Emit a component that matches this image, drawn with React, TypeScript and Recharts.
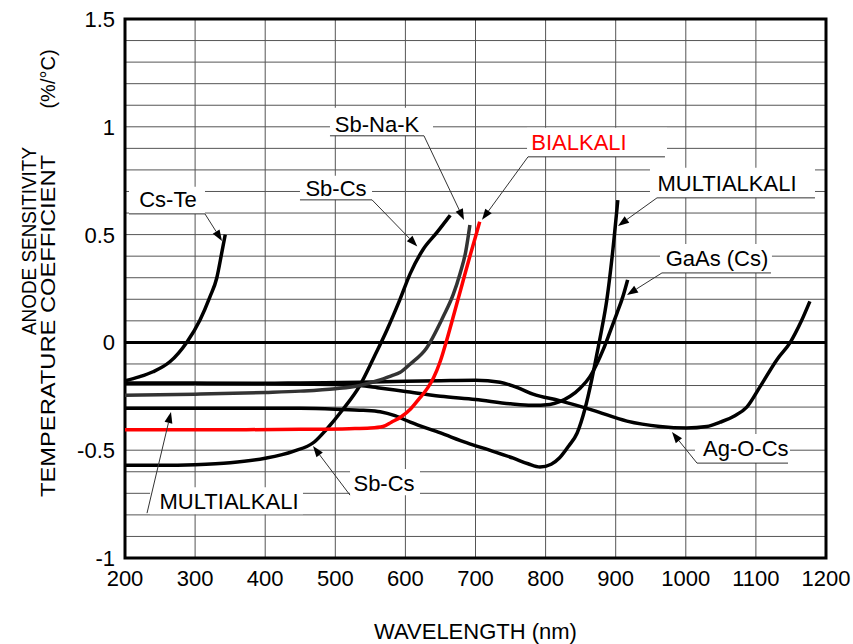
import React from 'react';
import { LineChart, Line, XAxis, YAxis, CartesianGrid, ReferenceLine, ReferenceArea, ReferenceDot } from 'recharts';

// ---- data (wavelength nm, temperature coefficient %/°C) ----
const xTicks = [200, 300, 400, 500, 600, 700, 800, 900, 1000, 1100, 1200];
const yTicks = [-1, -0.9, -0.8, -0.7, -0.6, -0.5, -0.4, -0.3, -0.2, -0.1, 0, 0.1, 0.2, 0.3, 0.4, 0.5, 0.6, 0.7, 0.8, 0.9, 1, 1.1, 1.2, 1.3, 1.4, 1.5];

const csTeNm = [200, 220, 240, 264, 288, 307, 321, 331, 338, 343];
const csTeV = [-0.178, -0.16, -0.136, -0.09, 0, 0.104, 0.21, 0.3, 0.415, 0.5];

const sbCsNm = [200, 250, 300, 350, 400, 440, 470, 487, 511, 535, 555, 574, 592, 607, 625, 645, 664];
const sbCsV = [-0.57, -0.57, -0.567, -0.558, -0.537, -0.505, -0.462, -0.405, -0.31, -0.2, -0.07, 0.06, 0.197, 0.32, 0.43, 0.51, 0.59];

const sbNaKNm = [200, 300, 400, 450, 500, 535, 560, 580, 592, 607, 630, 654, 668, 678, 686, 692];
const sbNaKV = [-0.245, -0.24, -0.232, -0.226, -0.215, -0.2, -0.178, -0.155, -0.14, -0.1, -0.027, 0.12, 0.22, 0.32, 0.42, 0.545];

const bialkaliNm = [200, 350, 450, 520, 550, 568, 580, 594, 607, 620, 632, 640, 650, 658, 670, 681, 692, 700, 706];
const bialkaliV = [-0.405, -0.405, -0.403, -0.4, -0.397, -0.39, -0.37, -0.345, -0.31, -0.26, -0.21, -0.165, -0.085, 0, 0.14, 0.27, 0.4, 0.49, 0.56];

const multiNm = [200, 300, 400, 450, 500, 540, 564, 585, 607, 650, 688, 720, 754, 775, 792, 808, 820, 833, 845, 856, 866, 874, 880, 887, 895, 903];
const multiV = [-0.305, -0.305, -0.305, -0.306, -0.31, -0.315, -0.322, -0.34, -0.37, -0.42, -0.466, -0.5, -0.537, -0.563, -0.578, -0.565, -0.535, -0.48, -0.42, -0.31, -0.17, -0.04, 0.06, 0.19, 0.4, 0.66];

const gaAsNm = [200, 300, 400, 500, 535, 560, 600, 650, 700, 750, 780, 806, 820, 835, 850, 863, 873, 882, 892, 902, 910, 917];
const gaAsV = [-0.19, -0.19, -0.192, -0.195, -0.2, -0.21, -0.228, -0.25, -0.265, -0.285, -0.292, -0.288, -0.275, -0.25, -0.21, -0.16, -0.1, -0.035, 0.05, 0.137, 0.21, 0.29];

const agOCsNm = [200, 300, 400, 450, 535, 600, 664, 700, 735, 760, 782, 820, 868, 916, 963, 1001, 1030, 1049, 1070, 1087, 1106, 1130, 1149, 1165, 1177];
const agOCsV = [-0.19, -0.19, -0.19, -0.188, -0.185, -0.18, -0.177, -0.176, -0.185, -0.21, -0.24, -0.27, -0.315, -0.365, -0.39, -0.397, -0.39, -0.37, -0.34, -0.3, -0.205, -0.08, 0, 0.1, 0.19];

const toRows = (nm: number[], v: number[]) => nm.map((x, i) => ({ nm: x, v: v[i] }));

const series = [
  { name: 'Ag-O-Cs', rows: toRows(agOCsNm, agOCsV), color: '#000' },
  { name: 'GaAs (Cs)', rows: toRows(gaAsNm, gaAsV), color: '#000' },
  { name: 'MULTIALKALI', rows: toRows(multiNm, multiV), color: '#000' },
  { name: 'Cs-Te', rows: toRows(csTeNm, csTeV), color: '#000' },
  { name: 'Sb-Cs', rows: toRows(sbCsNm, sbCsV), color: '#000' },
  { name: 'Sb-Na-K', rows: toRows(sbNaKNm, sbNaKV), color: '#333' },
  { name: 'BIALKALI', rows: toRows(bialkaliNm, bialkaliV), color: '#ff0000' },
];

// ---- callout annotations (in data coordinates) ----
type Ann = {
  label: string; color: string;
  box: [number, number, number, number];
  text: [number, number];
  underline: [number, number, number] | null;
  from: [number, number];
  tip: [number, number];
};
const annotations: Ann[] = [
  { label: 'Cs-Te', color: '#000', box: [205.7, 314.1, 0.5961, 0.7214], text: [261.3, 0.6657], underline: [205.7, 314.1, 0.5961], from: [314.1, 0.5961], tip: [338.4, 0.4708] },
  { label: 'Sb-Cs', color: '#000', box: [449.6, 552.4, 0.6611, 0.7725], text: [501, 0.7168], underline: [449.6, 552.4, 0.6611], from: [552.4, 0.6611], tip: [617, 0.445] },
  { label: 'Sb-Na-K', color: '#000', box: [492.4, 639.4, 0.9582, 1.0882], text: [559.5, 1.0139], underline: [492.4, 626.5, 0.9582], from: [626.5, 0.9582], tip: [683.6, 0.568] },
  { label: 'BIALKALI', color: '#ff0000', box: [773.5, 973.2, 0.8607, 0.9954], text: [847.6, 0.9304], underline: [774.9, 970.3, 0.8607], from: [774.9, 0.8607], tip: [709.3, 0.5683] },
  { label: 'MULTIALKALI', color: '#000', box: [948.9, 1184.3, 0.6704, 0.8097], text: [1058.8, 0.74], underline: [958.9, 1184.3, 0.6704], from: [958.9, 0.6704], tip: [903.3, 0.5404] },
  { label: 'GaAs (Cs)', color: '#000', box: [963.2, 1122.9, 0.3222, 0.4568], text: [1044.5, 0.3918], underline: [966, 1121.5, 0.3222], from: [966, 0.3222], tip: [916.1, 0.22] },
  { label: 'Ag-O-Cs', color: '#000', box: [1013.1, 1148.6, -0.5599, -0.4253], text: [1085.6, -0.4903], underline: [1016, 1145.8, -0.5599], from: [1016, -0.5599], tip: [980.3, -0.416] },
  { label: 'Sb-Cs', color: '#000', box: [521, 620.8, -0.7084, -0.5877], text: [569.5, -0.6527], underline: null, from: [521, -0.7084], tip: [468.2, -0.481] },
  { label: 'MULTIALKALI', color: '#000', box: [235.7, 453.9, -0.7967, -0.6713], text: [348.4, -0.7363], underline: null, from: [231.4, -0.792], tip: [265.6, -0.3231] },
];

const FONT = '"Liberation Sans", Arial, Helvetica, sans-serif';

const Arrow = (p: any) => {
  const { x1, y1, x2, y2 } = p;
  const dx = x2 - x1;
  const dy = y2 - y1;
  const len = Math.sqrt(dx * dx + dy * dy) || 1;
  const ux = dx / len;
  const uy = dy / len;
  const hl = 11;
  const hw = 4;
  const bx = x2 - ux * hl;
  const by = y2 - uy * hl;
  const pts = `${x2},${y2} ${bx - uy * hw},${by + ux * hw} ${bx + uy * hw},${by - ux * hw}`;
  return (
    <g>
      <line x1={x1} y1={y1} x2={bx} y2={by} stroke="#333" strokeWidth={1} />
      <polygon points={pts} fill="#000" />
    </g>
  );
};

const PlainLine = (p: any) => (
  <line x1={p.x1} y1={p.y1} x2={p.x2} y2={p.y2} stroke="#333" strokeWidth={1} />
);

const XTick = (p: any) => (
  <text x={p.x} y={p.y} dy={28} textAnchor="middle" fontSize={22} fill="#000" fontFamily={FONT}>
    {p.payload.value}
  </text>
);

const YTick = (p: any) => {
  const v = p.payload.value;
  const isMajor = Math.abs(v * 2 - Math.round(v * 2)) < 1e-6;
  if (!isMajor) return <g />;
  return (
    <text x={p.x - 10} y={p.y} dy="0.36em" textAnchor="end" fontSize={22} fill="#000" fontFamily={FONT}>
      {String(Math.round(v * 10) / 10)}
    </text>
  );
};

const YLabel = () => (
  <g fontFamily={FONT} fill="#000">
    <text x={29} y={241} fontSize={20} transform="rotate(-90, 29, 241)" textAnchor="middle" dominantBaseline="central" textLength={188} lengthAdjust="spacingAndGlyphs">
      ANODE SENSITIVITY
    </text>
    <text x={47.5} y={326} fontSize={21} transform="rotate(-90, 47.5, 326)" textAnchor="middle" dominantBaseline="central" textLength={342} lengthAdjust="spacingAndGlyphs">
      TEMPERATURE COEFFICIENT
    </text>
    <text x={47.5} y={79} fontSize={20} transform="rotate(-90, 47.5, 79)" textAnchor="middle" dominantBaseline="central">
      (%/°C)
    </text>
  </g>
);

const XLabel = () => (
  <text x={475.5} y={639} textAnchor="middle" fontSize={22} fill="#000" fontFamily={FONT}>
    WAVELENGTH (nm)
  </text>
);

export default function App() {
  return (
    <div style={{ position: 'absolute', left: 0, top: 0, width: 853, height: 644, background: '#fff', fontFamily: FONT }}>
      <LineChart width={853} height={644} margin={{ top: 19, right: 27, bottom: 0, left: 0 }}>
        <CartesianGrid stroke="#555" strokeWidth={1} />
        <XAxis
          type="number"
          dataKey="nm"
          domain={[200, 1200]}
          ticks={xTicks}
          interval={0}
          height={86}
          axisLine={false}
          tickLine={false}
          tickSize={0}
          tickMargin={0}
          tick={XTick}
          allowDataOverflow
          label={<XLabel />}
        />
        <YAxis
          type="number"
          domain={[-1, 1.5]}
          ticks={yTicks}
          interval={0}
          width={125}
          axisLine={false}
          tickLine={false}
          tickSize={0}
          tickMargin={0}
          tick={YTick}
          allowDataOverflow
          label={<YLabel />}
        />
        {annotations.map((a, i) => (
          <ReferenceArea
            key={`box${i}`}
            x1={a.box[0]}
            x2={a.box[1]}
            y1={a.box[2]}
            y2={a.box[3]}
            fill="#fff"
            fillOpacity={1}
            stroke="none"
            ifOverflow="visible"
          />
        ))}
        <ReferenceLine y={0} stroke="#000" strokeWidth={3} />
        {series.map((s) => (
          <Line
            key={s.name}
            data={s.rows}
            dataKey="v"
            type="monotone"
            stroke={s.color}
            strokeWidth={3.5}
            dot={false}
            activeDot={false}
            isAnimationActive={false}
          />
        ))}
        {annotations.map((a, i) =>
          a.underline ? (
            <ReferenceLine
              key={`ul${i}`}
              segment={[{ x: a.underline[0], y: a.underline[2] }, { x: a.underline[1], y: a.underline[2] }]}
              shape={PlainLine}
              ifOverflow="visible"
            />
          ) : null
        )}
        {annotations.map((a, i) => (
          <ReferenceLine
            key={`ar${i}`}
            segment={[{ x: a.from[0], y: a.from[1] }, { x: a.tip[0], y: a.tip[1] }]}
            shape={Arrow}
            ifOverflow="visible"
          />
        ))}
        {annotations.map((a, i) => (
          <ReferenceDot
            key={`tx${i}`}
            x={a.text[0]}
            y={a.text[1]}
            r={0}
            ifOverflow="visible"
            shape={(p: any) => (
              <text x={p.cx} y={p.cy} dy="0.36em" textAnchor="middle" fontSize={22} fill={a.color} fontFamily={FONT}>
                {a.label}
              </text>
            )}
          />
        ))}
        <ReferenceArea x1={200} x2={1200} y1={-1} y2={1.5} fill="none" stroke="#000" strokeWidth={3} ifOverflow="visible" />
      </LineChart>
    </div>
  );
}
